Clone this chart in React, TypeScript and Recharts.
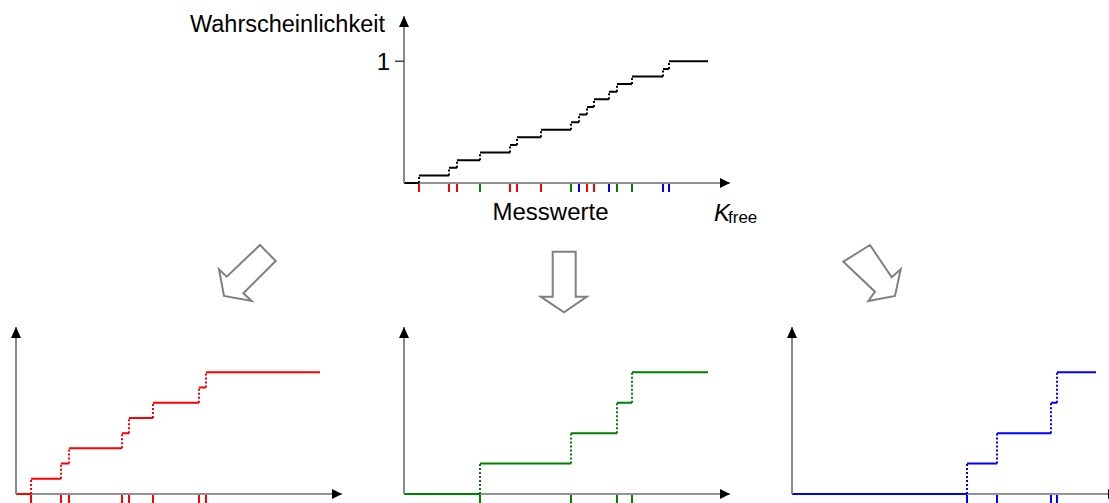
import React from 'react';
import { ComposedChart, Line, Scatter, XAxis, YAxis, ReferenceDot } from 'recharts';

// ---- data (measurement positions, in x-axis units) ----
const redValues = [15, 45, 53, 106, 113, 137, 183, 190];
const greenValues = [76, 167, 213, 228];
const blueValues = [175, 205, 259, 265];
const xEnd = 304;
const xMax = 326;
const yMax = 1.372;
const yTicks = [1];
const yTickLabels = ['1'];
const yAxisTitle = 'Wahrscheinlichkeit';
const xAxisTitle = 'Messwerte';
const varMain = 'K';
const varSub = 'free';

const RED = '#ff0000';
const GREEN = '#008000';
const BLUE = '#0000ff';
const BLACK = '#000000';
const FONT = '"Liberation Sans", Arial, sans-serif';

type Pt = { x: number; y: number | null };

function buildSteps(values: number[], end: number) {
  const sorted = [...values].sort((a, b) => a - b);
  const n = sorted.length;
  const flat: Pt[] = [];
  const rise: Pt[] = [];
  let prevX = 0;
  sorted.forEach((v, i) => {
    flat.push({ x: prevX, y: i / n }, { x: v, y: i / n }, { x: v, y: null });
    rise.push({ x: v, y: i / n }, { x: v, y: (i + 1) / n }, { x: v, y: null });
    prevX = v;
  });
  flat.push({ x: prevX, y: 1 }, { x: end, y: 1 });
  return { flat, rise };
}

const marksOf = (values: number[], color: string) => values.map((x) => ({ x, y: 0, color }));
const xAxisLineData = [
  { x: 0, y: 0 },
  { x: xMax, y: 0 },
];

const Y_AXIS_W = 40;
const PLOT_H = 167;
const X_AXIS_H = 12;

type PanelProps = {
  left: number;
  top: number;
  values: number[];
  color: string;
  marks: { x: number; y: number; color: string }[];
  showTickLabel: boolean;
  markLen: number;
};

function Panel({ left, top, values, color, marks, showTickLabel, markLen }: PanelProps) {
  const { flat, rise } = buildSteps(values, xEnd);
  return (
    <div style={{ position: 'absolute', left: left - Y_AXIS_W, top }}>
      <ComposedChart
        width={Y_AXIS_W + xMax + 2}
        height={PLOT_H + X_AXIS_H}
        margin={{ top: 0, right: 2, bottom: 0, left: 0 }}
      >
        <XAxis
          dataKey="x"
          type="number"
          domain={[0, xMax]}
          tick={false}
          tickLine={false}
          axisLine={false}
          height={X_AXIS_H}
        />
        <YAxis
          dataKey="y"
          type="number"
          domain={[0, yMax]}
          ticks={yTicks}
          width={Y_AXIS_W}
          tickSize={9}
          tickMargin={5}
          tickFormatter={(v: number) => yTickLabels[yTicks.indexOf(v)] ?? ''}
          tick={showTickLabel ? { fontSize: 24, fill: '#000', fontFamily: FONT } : false}
          tickLine={{ stroke: '#444', strokeWidth: 1.5 }}
          axisLine={{ stroke: '#8a8a8a', strokeWidth: 2 }}
        />
        <Line
          data={xAxisLineData}
          dataKey="y"
          type="linear"
          stroke="#929292"
          strokeWidth={2}
          dot={false}
          activeDot={false}
          isAnimationActive={false}
        />
        <Line
          data={flat}
          dataKey="y"
          type="linear"
          stroke={color}
          strokeWidth={2}
          dot={false}
          activeDot={false}
          connectNulls={false}
          isAnimationActive={false}
        />
        <Line
          data={rise}
          dataKey="y"
          type="linear"
          stroke={color}
          strokeWidth={2}
          strokeDasharray="2 2"
          dot={false}
          activeDot={false}
          connectNulls={false}
          isAnimationActive={false}
        />
        <Scatter
          data={marks}
          dataKey="y"
          isAnimationActive={false}
          shape={(p: any) => (
            <line
              x1={p.cx}
              y1={p.cy + 1}
              x2={p.cx}
              y2={p.cy + 1 + markLen}
              stroke={p.payload.color}
              strokeWidth={2}
            />
          )}
        />
        <ReferenceDot
          x={xMax}
          y={0}
          ifOverflow="visible"
          shape={(p: any) => (
            <polygon
              points={`${p.cx},${p.cy} ${p.cx - 10},${p.cy - 5} ${p.cx - 10},${p.cy + 5}`}
              fill="#000"
            />
          )}
        />
        <ReferenceDot
          x={0}
          y={yMax}
          ifOverflow="visible"
          shape={(p: any) => (
            <polygon
              points={`${p.cx},${p.cy} ${p.cx - 5},${p.cy + 11} ${p.cx + 5},${p.cy + 11}`}
              fill="#000"
            />
          )}
        />
      </ComposedChart>
    </div>
  );
}

export default function App() {
  const allValues = [...redValues, ...greenValues, ...blueValues];
  const allMarks = [
    ...marksOf(redValues, RED),
    ...marksOf(greenValues, GREEN),
    ...marksOf(blueValues, BLUE),
  ];
  return (
    <div
      style={{
        position: 'absolute',
        left: 0,
        top: 0,
        width: 1109,
        height: 503,
        overflow: 'hidden',
        background: '#fff',
        fontFamily: FONT,
      }}
    >
      <svg
        width={1109}
        height={503}
        style={{ position: 'absolute', left: 0, top: 0, pointerEvents: 'none' }}
      >
        <text x={385} y={32} fontSize={23.5} textAnchor="end" fill="#000" fontFamily={FONT}>
          {yAxisTitle}
        </text>
        <text x={550.5} y={220} fontSize={24} textAnchor="middle" fill="#000" fontFamily={FONT}>
          {xAxisTitle}
        </text>
        <text x={714} y={221} fontSize={24} fontStyle="italic" fill="#000" fontFamily={FONT}>
          {varMain}
        </text>
        <text x={728} y={223} fontSize={17} fill="#000" fontFamily={FONT}>
          {varSub}
        </text>
        <g fill="#fff" stroke="#808080" strokeWidth={2} strokeLinejoin="miter">
          <polygon points="260,245 275.7,261 243.3,293.3 251.7,301 224,296 219,269.3 226.7,276.7" />
          <polygon points="552.7,251.7 575.7,251.7 575.7,296.7 586.7,296.7 564,312.3 540.7,296.7 552.7,296.7" />
          <polygon points="870,245 843.3,261.7 875,291.7 868.3,301 895,296 900.7,269.3 891.7,277.3" />
        </g>
      </svg>
      <Panel left={404} top={16} values={allValues} color={BLACK} marks={allMarks} showTickLabel markLen={8} />
      <Panel left={16} top={327} values={redValues} color={RED} marks={marksOf(redValues, RED)} showTickLabel={false} markLen={10} />
      <Panel left={404} top={327} values={greenValues} color={GREEN} marks={marksOf(greenValues, GREEN)} showTickLabel={false} markLen={10} />
      <Panel left={792} top={327} values={blueValues} color={BLUE} marks={marksOf(blueValues, BLUE)} showTickLabel={false} markLen={10} />
    </div>
  );
}
